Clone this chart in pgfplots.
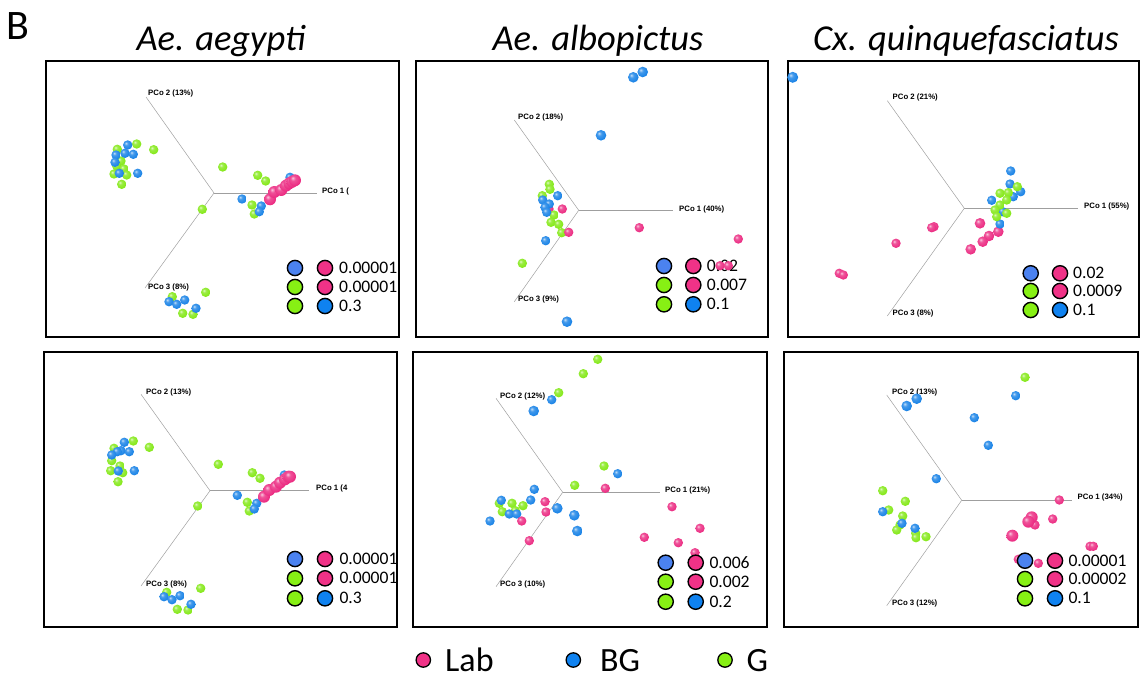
\documentclass[border=0pt]{standalone}
\usepackage{fontspec}
\setmainfont{Carlito}
\newfontfamily\pcofont{Liberation Sans}
\usepackage{pgfplots}
\pgfplotsset{compat=1.18}

\definecolor{cLab}{RGB}{235,40,128}
\definecolor{cBG}{RGB}{20,128,230}
\definecolor{cG}{RGB}{130,232,20}
\definecolor{kLab}{RGB}{240,50,135}
\definecolor{kBG}{RGB}{15,130,240}
\definecolor{kG}{RGB}{135,240,20}
\definecolor{kPeri}{RGB}{75,130,240}

\pgfdeclareradialshading{shLab}{\pgfpoint{-10bp}{10bp}}{color(0bp)=(cLab!25!white); color(10bp)=(cLab!80!white); color(30bp)=(cLab); color(62bp)=(cLab!72!black)}
\pgfdeclareradialshading{shBG}{\pgfpoint{-10bp}{10bp}}{color(0bp)=(cBG!25!white); color(10bp)=(cBG!80!white); color(30bp)=(cBG); color(62bp)=(cBG!72!black)}
\pgfdeclareradialshading{shG}{\pgfpoint{-10bp}{10bp}}{color(0bp)=(cG!25!white); color(10bp)=(cG!80!white); color(30bp)=(cG); color(62bp)=(cG!72!black)}
\pgfdeclareplotmark{ballLab}{\pgfpathcircle{\pgfpointorigin}{\pgfplotmarksize}\pgfshadepath{shLab}{0}\pgfusepath{}}
\pgfdeclareplotmark{ballBG}{\pgfpathcircle{\pgfpointorigin}{\pgfplotmarksize}\pgfshadepath{shBG}{0}\pgfusepath{}}
\pgfdeclareplotmark{ballG}{\pgfpathcircle{\pgfpointorigin}{\pgfplotmarksize}\pgfshadepath{shG}{0}\pgfusepath{}}

\pgfplotsset{
  panel/.style={anchor=south west, scale only axis, clip=false, xtick=\empty, ytick=\empty,
    axis line style={line width=1.6pt, black}},
  pco/.style={no marks, color=gray!75, line width=0.5pt},
  pG/.style={only marks, mark=ballG, mark size=#1},
  pG/.default=4.7pt,
  pBG/.style={only marks, mark=ballBG, mark size=#1},
  pBG/.default=4.7pt,
  pLab/.style={only marks, mark=ballLab, mark size=#1},
  pLab/.default=4.7pt,
  key/.style={only marks, mark=*, mark size=7.6pt, mark options={draw=black, line width=1.4pt, fill=#1}},
}
\newcommand\pcolab[2]{\node[anchor=west, inner sep=0pt, font=\pcofont\bfseries\fontsize{7.8}{8}\selectfont] at (axis cs:#1) {#2};}
\newcommand\keytxt[2]{\node[anchor=west, inner sep=0pt, font=\fontsize{17.6}{20}\selectfont] at (axis cs:#1) {#2};}

\begin{document}
\begin{tikzpicture}
\useasboundingbox (0pt,0pt) rectangle (1142pt,-679pt);

% titles
\node[anchor=base west, inner sep=0pt, font=\fontsize{42}{46}\selectfont] at (6pt,-40pt) {B};
\node[anchor=base, inner sep=0pt, font=\fontsize{36.5}{40}\selectfont\itshape] at (221pt,-51pt) {Ae. aegypti};
\node[anchor=base, inner sep=0pt, font=\fontsize{36.5}{40}\selectfont\itshape] at (598pt,-51pt) {Ae. albopictus};
\node[anchor=base, inner sep=0pt, font=\fontsize{36.5}{40}\selectfont\itshape] at (966pt,-51pt) {Cx. quinquefasciatus};

% ---------- Panel 1 ----------
\begin{axis}[panel, at={(46pt,-337pt)}, width=353pt, height=276pt, xmin=46, xmax=399, ymin=-337, ymax=-61]
\addplot[pco] coordinates {(214,-193) (317,-193)};
\addplot[pco] coordinates {(214,-193) (146,-97)};
\addplot[pco] coordinates {(214,-193) (145,-288)};
\pcolab{148,-93}{PCo 2 (13\%)}
\pcolab{322,-191}{PCo 1 (}
\pcolab{148,-287}{PCo 3 (8\%)}
\addplot[pG] coordinates {(136.7,-144) (117.3,-149.3) (121,-161) (116.7,-166) (124,-169) (114,-174) (126.7,-175) (121.7,-184.3) (153.7,-149.7) (222.7,-167) (202.3,-209.3) (257.7,-175.3) (265.7,-181) (252,-205) (254.3,-214) (172.3,-296.7) (205.7,-292.3) (182.7,-313.3) (193,-314.3)};
\addplot[pBG] coordinates {(127.7,-145) (125,-153.3) (133.3,-154.3) (116,-155) (115,-162.3) (119.3,-173.3) (137.7,-173.3) (290,-177.3) (242,-199) (261.3,-206) (259.3,-211.7) (169,-301.7) (176.7,-304.3) (184.7,-300) (196,-308.3)};
\addplot[pLab=6pt] coordinates {(270,-199.3) (274.3,-192) (281.3,-190) (286,-185.7) (289.3,-183.3) (292.3,-181.7) (295,-180.3)};
\addplot[key=kPeri] coordinates {(295,-268)};
\addplot[key=kG] coordinates {(295,-287) (295,-306)};
\addplot[key=kLab] coordinates {(325,-268) (325,-287)};
\addplot[key=kBG] coordinates {(325,-306)};
\keytxt{339,-268}{0.00001}
\keytxt{339,-287}{0.00001}
\keytxt{339,-306}{0.3}
\end{axis}

% ---------- Panel 2 ----------
\begin{axis}[panel, at={(416pt,-337pt)}, width=352pt, height=276pt, xmin=416, xmax=768, ymin=-337, ymax=-61]
\addplot[pco] coordinates {(578.7,-210.3) (673.3,-210.3)};
\addplot[pco] coordinates {(578.7,-210.3) (514.3,-120)};
\addplot[pco] coordinates {(578.7,-210.3) (514.3,-301.7)};
\pcolab{518,-117}{PCo 2 (18\%)}
\pcolab{679,-209}{PCo 1 (40\%)}
\pcolab{518,-299.5}{PCo 3 (9\%)}
\addplot[pLab] coordinates {(549,-209) (562.3,-209) (639.3,-227.7) (738.3,-239) (720,-265.7) (728.3,-265.7)};
\addplot[pG] coordinates {(549.3,-184.3) (550,-189.3) (542.3,-195.7) (554,-215) (551,-222.3) (558.7,-224.3) (561.7,-232.7) (522.3,-263.3)};
\addplot[pBG] coordinates {(557.7,-195.7) (542.7,-200) (549.3,-204) (545,-207.3) (546.7,-212.3) (545.7,-240.7)};
\addplot[pBG=5.3pt] coordinates {(642.7,-72) (633.3,-77.3) (601,-135.3) (567,-321.7)};
\addplot[pLab] coordinates {(568.7,-232.3)};
\addplot[key=kPeri] coordinates {(664,-266)};
\addplot[key=kG] coordinates {(664,-285) (664,-304.3)};
\addplot[key=kLab] coordinates {(693.3,-266) (693.3,-285)};
\addplot[key=kBG] coordinates {(693.3,-304.3)};
\keytxt{706.7,-266}{0.02}
\keytxt{706.7,-285}{0.007}
\keytxt{706.7,-304.3}{0.1}
\end{axis}

% ---------- Panel 3 ----------
\begin{axis}[panel, at={(788pt,-337pt)}, width=351pt, height=276pt, xmin=788, xmax=1139, ymin=-337, ymax=-61]
\addplot[pco] coordinates {(964.3,-208.3) (1077.7,-208.3)};
\addplot[pco] coordinates {(964.3,-208.3) (887.3,-100.7)};
\addplot[pco] coordinates {(964.3,-208.3) (887.3,-316)};
\pcolab{892.5,-97.7}{PCo 2 (21\%)}
\pcolab{1084,-206}{PCo 1 (55\%)}
\pcolab{892.5,-313.3}{PCo 3 (8\%)}
\addplot[pBG=5.5pt] coordinates {(792.7,-77.3)};
\addplot[pLab] coordinates {(934,-226.7) (931.7,-227.7) (896,-243.3) (839.3,-273.3) (843.3,-275)};
\addplot[pLab=5.3pt] coordinates {(980,-223.3) (998.3,-231.7) (989,-236) (982.7,-241.7) (970.7,-249.3)};
\addplot[pBG] coordinates {(1010.7,-171) (1010,-184) (1020.7,-191.7) (1013.3,-196.7) (991.7,-200.3) (1002.7,-211.7) (1000,-224)};
\addplot[pG] coordinates {(1017.3,-186.7) (1000,-193.3) (1008.3,-192.7) (1006.7,-200) (1000,-205) (995,-210) (1006.7,-213.3) (996.7,-216.7)};
\addplot[key=kPeri] coordinates {(1030.7,-273.3)};
\addplot[key=kG] coordinates {(1030.7,-291) (1030.7,-310)};
\addplot[key=kLab] coordinates {(1060,-273.3) (1060,-291)};
\addplot[key=kBG] coordinates {(1060,-310)};
\keytxt{1073,-273.3}{0.02}
\keytxt{1073,-291}{0.0009}
\keytxt{1073,-310}{0.1}
\end{axis}

% ---------- Panel 4 ----------
\begin{axis}[panel, at={(44pt,-627pt)}, width=353pt, height=275pt, xmin=44, xmax=397, ymin=-627, ymax=-352]
\addplot[pco] coordinates {(210,-490.7) (309.3,-490.7)};
\addplot[pco] coordinates {(210,-490.7) (141,-394.3)};
\addplot[pco] coordinates {(210,-490.7) (141,-586)};
\pcolab{146,-392.3}{PCo 2 (13\%)}
\pcolab{316,-488.3}{PCo 1 (4}
\pcolab{146,-584.3}{PCo 3 (8\%)}
\addplot[pG] coordinates {(133.3,-441) (114,-448.3) (111.7,-460.7) (120,-466) (110.7,-470.7) (122.7,-472.7) (118,-481.7) (149.3,-447.3) (218.3,-464.3) (197.7,-506) (252.3,-472.7) (260,-478.3) (247.3,-502.3) (249.3,-511) (166.7,-592.3) (200.7,-588.3) (177.3,-609.3) (188,-610)};
\addplot[pBG] coordinates {(124.3,-442.3) (121,-450.7) (129.3,-451.7) (117.3,-451.7) (111.7,-455) (118.3,-471) (134.3,-470.7) (284.3,-475) (237.3,-495.3) (256.7,-503.3) (254.3,-509) (164,-596.7) (172,-599.7) (180,-595.7) (191,-604.3)};
\addplot[pLab=6pt] coordinates {(264,-496.7) (269.3,-490) (276,-486.7) (280,-482.7) (285,-479.3) (288.3,-476.7) (290,-476.7)};
\addplot[key=kPeri] coordinates {(295,-559)};
\addplot[key=kG] coordinates {(295,-578.3) (295,-598.3)};
\addplot[key=kLab] coordinates {(325,-559) (325,-578.3)};
\addplot[key=kBG] coordinates {(325,-598.3)};
\keytxt{339.3,-559}{0.00001}
\keytxt{339.3,-578.3}{0.00001}
\keytxt{339.3,-598.3}{0.3}
\end{axis}

% ---------- Panel 5 ----------
\begin{axis}[panel, at={(413pt,-627pt)}, width=354pt, height=275pt, xmin=413, xmax=767, ymin=-627, ymax=-352]
\addplot[pco] coordinates {(562.7,-492.3) (660,-492.3)};
\addplot[pco] coordinates {(562.7,-492.3) (496,-398.3)};
\addplot[pco] coordinates {(562.7,-492.3) (496,-586.7)};
\pcolab{500,-396}{PCo 2 (12\%)}
\pcolab{665,-490}{PCo 1 (21\%)}
\pcolab{500,-584.3}{PCo 3 (10\%)}
\addplot[pG] coordinates {(597.7,-359.3) (583.3,-373.7) (558.7,-392.7) (604,-466) (574.7,-485.3) (499.3,-503.3) (512,-503.3) (523,-505.7) (502.3,-511.7) (515.3,-510.7)};
\addplot[pBG] coordinates {(551.7,-399.7) (617.7,-473.7) (534.3,-489.3) (501.3,-500.3) (530.7,-500) (509.3,-514) (516.7,-514) (490,-521)};
\addplot[pBG=5.3pt] coordinates {(533.7,-411) (557.3,-508.3) (574.3,-515.3) (577.3,-531)};
\addplot[pLab] coordinates {(605.3,-488.3) (545,-501.7) (546,-512) (521.7,-521) (529.3,-540.7) (672,-506.7) (700,-528.3) (644.3,-537.3) (678.3,-542.7) (695,-552.7)};
\addplot[key=kPeri] coordinates {(665.7,-562.7)};
\addplot[key=kG] coordinates {(665.7,-581.7) (665.7,-601.7)};
\addplot[key=kLab] coordinates {(695.7,-562.7) (695.7,-581.7)};
\addplot[key=kBG] coordinates {(695.7,-601.7)};
\keytxt{709.3,-562.7}{0.006}
\keytxt{709.3,-581.7}{0.002}
\keytxt{709.3,-601.7}{0.2}
\end{axis}

% ---------- Panel 6 ----------
\begin{axis}[panel, at={(784pt,-627pt)}, width=354pt, height=275pt, xmin=784, xmax=1138, ymin=-627, ymax=-352]
\addplot[pco] coordinates {(961.7,-500.3) (1071.7,-500.3)};
\addplot[pco] coordinates {(961.7,-500.3) (886.7,-395)};
\addplot[pco] coordinates {(961.7,-500.3) (886.7,-605.7)};
\pcolab{892,-392.3}{PCo 2 (13\%)}
\pcolab{1077.5,-497.7}{PCo 1 (34\%)}
\pcolab{892,-603.3}{PCo 3 (12\%)}
\addplot[pG] coordinates {(1025,-377.3) (882.7,-490.7) (905.3,-501.3) (888.7,-510) (902.7,-516) (900,-525) (896.7,-530) (915.7,-533.3) (916,-537.7) (926,-536.7)};
\addplot[pBG] coordinates {(1015.7,-395.7) (974.3,-417.7) (988.3,-445.3) (936.3,-478.7) (882.7,-511.7) (902,-523.3) (915,-528.3)};
\addplot[pBG=5.3pt] coordinates {(916.7,-398.7) (906.7,-406)};
\addplot[pLab] coordinates {(1059.3,-500) (1035,-525) (1052.7,-519) (1090,-546.3) (1093.3,-546.3) (1018.3,-559.3) (1038.3,-563.3)};
\addplot[pLab=6pt] coordinates {(1031.7,-517.3) (1028.3,-521.7) (1012.3,-535.7)};
\addplot[key=kPeri] coordinates {(1025,-560.7)};
\addplot[key=kG] coordinates {(1025,-579) (1025,-598.3)};
\addplot[key=kLab] coordinates {(1055,-560.7) (1055,-579)};
\addplot[key=kBG] coordinates {(1055,-598.3)};
\keytxt{1068.3,-560.7}{0.00001}
\keytxt{1068.3,-579}{0.00002}
\keytxt{1068.3,-598.3}{0.1}
\end{axis}

% ---------- bottom legend ----------
\begin{axis}[hide axis, anchor=south west, at={(0pt,-679pt)}, scale only axis, width=1142pt, height=49pt, xmin=0, xmax=1142, ymin=-679, ymax=-630, clip=false]
\addplot[only marks, mark=*, mark size=7.2pt, mark options={draw=black, line width=1.3pt, fill=kLab}] coordinates {(423.3,-660)};
\addplot[only marks, mark=*, mark size=7.2pt, mark options={draw=black, line width=1.3pt, fill=kBG}] coordinates {(573.3,-660)};
\addplot[only marks, mark=*, mark size=7.2pt, mark options={draw=black, line width=1.3pt, fill=kG}] coordinates {(725,-660)};
\node[anchor=base west, inner sep=0pt, font=\fontsize{34}{36}\selectfont] at (axis cs:445,-671) {Lab};
\node[anchor=base west, inner sep=0pt, font=\fontsize{34}{36}\selectfont] at (axis cs:600,-671) {BG};
\node[anchor=base west, inner sep=0pt, font=\fontsize{34}{36}\selectfont] at (axis cs:746.5,-671) {G};
\end{axis}
\end{tikzpicture}
\end{document}
